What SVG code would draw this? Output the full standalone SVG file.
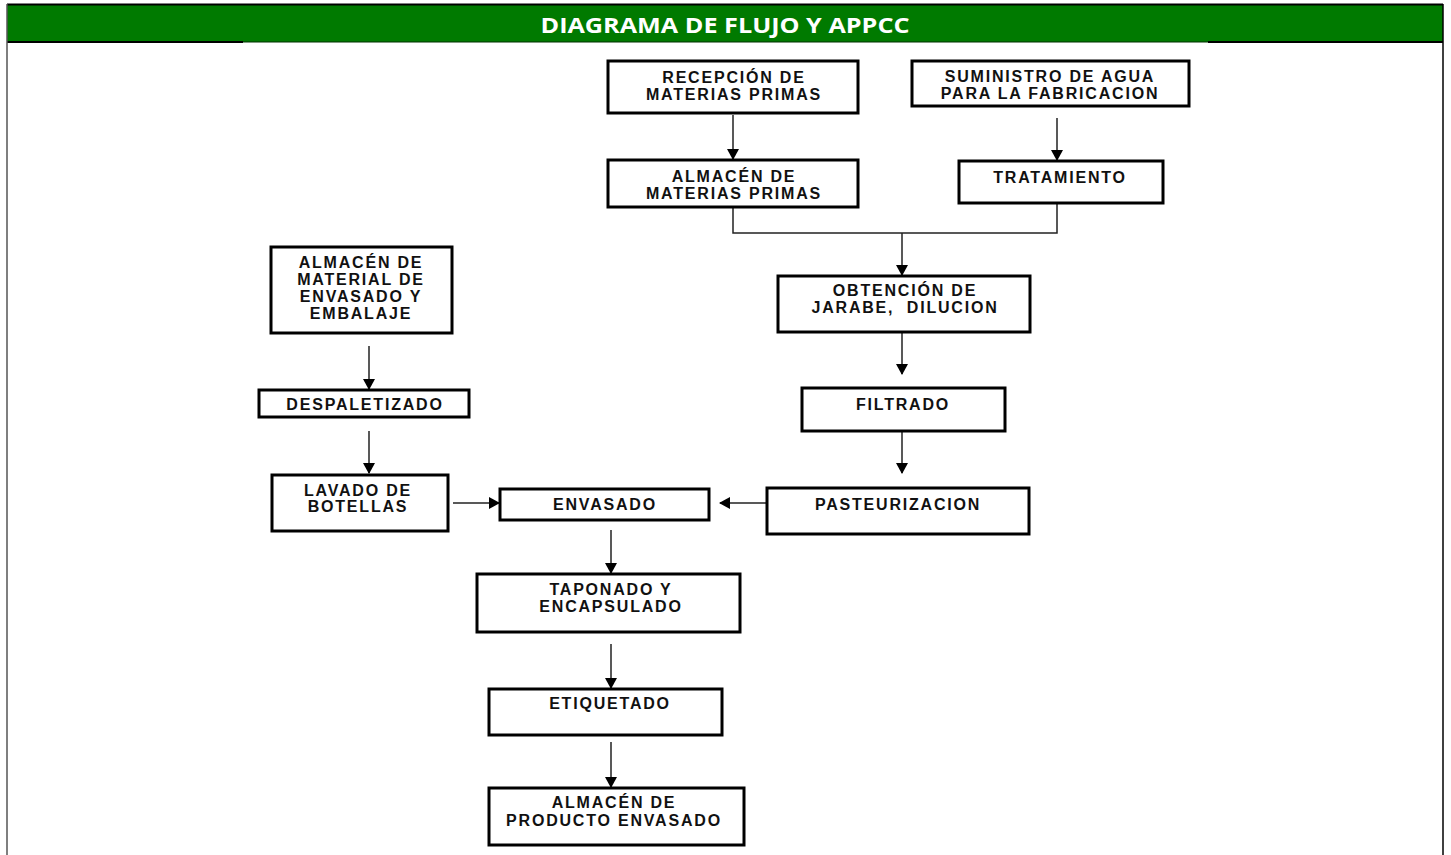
<svg xmlns="http://www.w3.org/2000/svg" width="1451" height="855" viewBox="0 0 1451 855">
<defs>
<marker id="ah" markerWidth="12" markerHeight="12" refX="10" refY="6" orient="auto" markerUnits="userSpaceOnUse">
<path d="M0,0 L11,6 L0,12 Z" fill="#000"/>
</marker>
<style>
.box{fill:#fff;stroke:#000;stroke-width:3}
.t{font-family:"Liberation Sans",Arial,sans-serif;font-weight:bold;font-size:16px;fill:#111;text-anchor:middle;letter-spacing:1.8px}
.c{fill:none;stroke:#222;stroke-width:1.5}
.ca{fill:none;stroke:#222;stroke-width:1.5;marker-end:url(#ah)}
</style>
</defs>
<rect x="0" y="0" width="1451" height="855" fill="#fff"/>
<g id="header">
<rect x="7" y="5" width="1436" height="37" fill="#007a00"/>
<line x1="7" y1="4.5" x2="1443" y2="4.5" stroke="#000" stroke-width="2"/>
<line x1="7" y1="42" x2="243" y2="42" stroke="#000" stroke-width="2"/>
<line x1="1208" y1="42" x2="1443" y2="42" stroke="#000" stroke-width="2"/>
<line x1="243" y1="42" x2="1208" y2="42" stroke="#003000" stroke-width="1"/>
<line x1="7" y1="4" x2="7" y2="855" stroke="#555" stroke-width="1.5"/>
<line x1="1443" y1="4" x2="1443" y2="855" stroke="#000" stroke-width="1.5"/>
<text x="725" y="33" font-family="'Open Sans','Liberation Sans',Arial,sans-serif" font-weight="bold" font-size="22" fill="#fff" text-anchor="middle" textLength="369" lengthAdjust="spacingAndGlyphs">DIAGRAMA DE FLUJO Y APPCC</text>
</g>
<g id="connectors">
<line class="ca" x1="733" y1="115" x2="733" y2="159"/>
<line class="ca" x1="1057" y1="118" x2="1057" y2="160"/>
<polyline class="c" points="733,207 733,233 1057,233 1057,202"/>
<line class="ca" x1="902" y1="233" x2="902" y2="275"/>
<line class="ca" x1="902" y1="333" x2="902" y2="374"/>
<line class="ca" x1="902" y1="432" x2="902" y2="473"/>
<line class="ca" x1="369" y1="346" x2="369" y2="389"/>
<line class="ca" x1="369" y1="431" x2="369" y2="473"/>
<line class="ca" x1="453" y1="503" x2="499" y2="503"/>
<line class="ca" x1="766" y1="503" x2="720" y2="503"/>
<line class="ca" x1="611" y1="530" x2="611" y2="573"/>
<line class="ca" x1="611" y1="644" x2="611" y2="688"/>
<line class="ca" x1="611" y1="742" x2="611" y2="787"/>
</g>
<g id="recepcion">
<rect class="box" x="608" y="61" width="250" height="52"/>
<text class="t" x="734" y="83">RECEPCIÓN DE</text>
<text class="t" x="734" y="100">MATERIAS PRIMAS</text>
</g>
<g id="suministro">
<rect class="box" x="912" y="61" width="277" height="45"/>
<text class="t" x="1050" y="82">SUMINISTRO DE AGUA</text>
<text class="t" x="1050" y="99">PARA LA FABRICACION</text>
</g>
<g id="almacen-mp">
<rect class="box" x="608" y="160" width="250" height="47"/>
<text class="t" x="734" y="182">ALMACÉN DE</text>
<text class="t" x="734" y="199">MATERIAS PRIMAS</text>
</g>
<g id="tratamiento">
<rect class="box" x="959" y="161" width="204" height="42"/>
<text class="t" x="1060" y="183">TRATAMIENTO</text>
</g>
<g id="obtencion">
<rect class="box" x="778" y="276" width="252" height="56"/>
<text class="t" x="905" y="296">OBTENCIÓN DE</text>
<text class="t" x="905" y="313" xml:space="preserve">JARABE,  DILUCION</text>
</g>
<g id="almacen-material">
<rect class="box" x="271" y="247" width="181" height="86"/>
<text class="t" x="361" y="268">ALMACÉN DE</text>
<text class="t" x="361" y="285">MATERIAL DE</text>
<text class="t" x="361" y="302">ENVASADO Y</text>
<text class="t" x="361" y="319">EMBALAJE</text>
</g>
<g id="despaletizado">
<rect class="box" x="259" y="390" width="210" height="27"/>
<text class="t" x="365" y="410">DESPALETIZADO</text>
</g>
<g id="filtrado">
<rect class="box" x="802" y="388" width="203" height="43"/>
<text class="t" x="903" y="410">FILTRADO</text>
</g>
<g id="lavado">
<rect class="box" x="272" y="475" width="176" height="56"/>
<text class="t" x="358" y="496">LAVADO DE</text>
<text class="t" x="358" y="512">BOTELLAS</text>
</g>
<g id="envasado">
<rect class="box" x="500" y="489" width="209" height="31"/>
<text class="t" x="605" y="510">ENVASADO</text>
</g>
<g id="pasteurizacion">
<rect class="box" x="767" y="488" width="262" height="46"/>
<text class="t" x="898" y="510">PASTEURIZACION</text>
</g>
<g id="taponado">
<rect class="box" x="477" y="574" width="263" height="58"/>
<text class="t" x="611" y="595">TAPONADO Y</text>
<text class="t" x="611" y="612">ENCAPSULADO</text>
</g>
<g id="etiquetado">
<rect class="box" x="489" y="689" width="233" height="46"/>
<text class="t" x="610" y="709">ETIQUETADO</text>
</g>
<g id="almacen-producto">
<rect class="box" x="489" y="788" width="255" height="57"/>
<text class="t" x="614" y="808">ALMACÉN DE</text>
<text class="t" x="614" y="826">PRODUCTO ENVASADO</text>
</g>
</svg>
